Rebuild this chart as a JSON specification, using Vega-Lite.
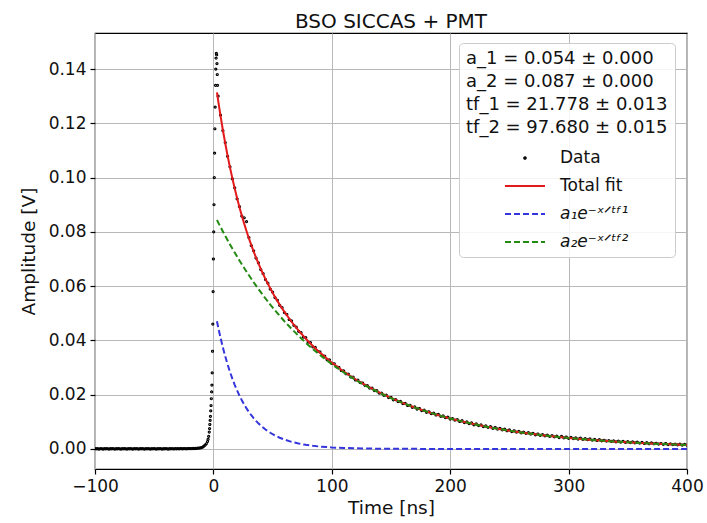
{
  "$schema": "https://vega.github.io/schema/vega-lite/v6.json",
  "autosize": "none",
  "width": 592,
  "height": 436,
  "padding": {"left": 95, "top": 33, "right": 20, "bottom": 54},
  "background": "white",
  "title": {"text": "BSO SICCAS + PMT", "fontSize": 20, "fontWeight": "normal", "font": "DejaVu Sans", "color": "#111", "anchor": "middle", "offset": -15, "baseline": "alphabetic"},
  "datasets": {
    "pts": [
      {"t":-100,"v":0.0001},{"t":-99,"v":0.0},{"t":-98,"v":0.0001},{"t":-97,"v":-0.0001},{"t":-96,"v":0.0},{"t":-95,"v":0.0001},{"t":-94,"v":0.0},{"t":-93,"v":-0.0001},{"t":-92,"v":0.0001},{"t":-91,"v":0.0},
      {"t":-90,"v":0.0001},{"t":-89,"v":0.0},{"t":-88,"v":-0.0001},{"t":-87,"v":0.0001},{"t":-86,"v":0.0},{"t":-85,"v":0.0001},{"t":-84,"v":0.0},{"t":-83,"v":-0.0001},{"t":-82,"v":0.0001},{"t":-81,"v":0.0},
      {"t":-80,"v":0.0001},{"t":-79,"v":0.0},{"t":-78,"v":-0.0001},{"t":-77,"v":0.0001},{"t":-76,"v":0.0},{"t":-75,"v":0.0001},{"t":-74,"v":0.0},{"t":-73,"v":-0.0001},{"t":-72,"v":0.0001},{"t":-71,"v":0.0},
      {"t":-70,"v":0.0001},{"t":-69,"v":0.0},{"t":-68,"v":-0.0001},{"t":-67,"v":0.0001},{"t":-66,"v":0.0},{"t":-65,"v":0.0001},{"t":-64,"v":0.0},{"t":-63,"v":-0.0001},{"t":-62,"v":0.0001},{"t":-61,"v":0.0},
      {"t":-60,"v":0.0001},{"t":-59,"v":0.0},{"t":-58,"v":-0.0001},{"t":-57,"v":0.0001},{"t":-56,"v":0.0},{"t":-55,"v":0.0001},{"t":-54,"v":0.0},{"t":-53,"v":-0.0001},{"t":-52,"v":0.0001},{"t":-51,"v":0.0},
      {"t":-50,"v":0.0001},{"t":-49,"v":0.0},{"t":-48,"v":-0.0001},{"t":-47,"v":0.0001},{"t":-46,"v":0.0},{"t":-45,"v":0.0001},{"t":-44,"v":0.0},{"t":-43,"v":-0.0001},{"t":-42,"v":0.0001},{"t":-41,"v":0.0},
      {"t":-40,"v":0.0001},{"t":-39,"v":0.0},{"t":-38,"v":-0.0001},{"t":-37,"v":0.0001},{"t":-36,"v":0.0},{"t":-35,"v":0.0001},{"t":-34,"v":0.0},{"t":-33,"v":0.0},{"t":-32,"v":0.0001},{"t":-31,"v":0.0},
      {"t":-30,"v":0.0001},{"t":-29,"v":0.0},{"t":-28,"v":0.0001},{"t":-27,"v":0.0001},{"t":-26,"v":0.0},{"t":-25,"v":0.0001},{"t":-24,"v":0.0001},{"t":-23,"v":0.0},{"t":-22,"v":0.0001},{"t":-21,"v":0.0001},
      {"t":-20,"v":0.0001},{"t":-19,"v":0.0001},{"t":-18,"v":0.0001},{"t":-17,"v":0.0002},{"t":-16,"v":0.0001},{"t":-15,"v":0.0002},{"t":-14,"v":0.0002},{"t":-13,"v":0.0003},
      {"t":-12,"v":0.0003},{"t":-11,"v":0.0004},{"t":-10,"v":0.0005},{"t":-9,"v":0.0007},{"t":-8,"v":0.001},{"t":-7,"v":0.0014},{"t":-6,"v":0.0019},{"t":-5,"v":0.0027},{"t":-4.5,"v":0.0035},{"t":-4,"v":0.0046},
      {"t":-3.5,"v":0.0062},{"t":-3.25,"v":0.0075},{"t":-3,"v":0.009},{"t":-2.75,"v":0.0105},{"t":-2.5,"v":0.012},{"t":-2.25,"v":0.014},{"t":-2,"v":0.016},{"t":-1.75,"v":0.0185},{"t":-1.5,"v":0.021},{"t":-1.25,"v":0.0235},
      {"t":-1,"v":0.028},{"t":-0.75,"v":0.036},{"t":-0.5,"v":0.046},{"t":-0.25,"v":0.058},{"t":0,"v":0.07},{"t":0.25,"v":0.08},{"t":0.5,"v":0.09},{"t":0.75,"v":0.1},{"t":1,"v":0.109},{"t":1.25,"v":0.118},
      {"t":1.5,"v":0.126},{"t":1.75,"v":0.134},{"t":2,"v":0.14},{"t":2.25,"v":0.144},{"t":2.5,"v":0.1458},{"t":2.75,"v":0.1452},{"t":3,"v":0.142},{"t":3.25,"v":0.138},{"t":3.5,"v":0.134},
      {"t":4,"v":0.13},{"t":6,"v":0.123},{"t":8,"v":0.1173},{"t":10,"v":0.1129},{"t":12,"v":0.1078},{"t":14,"v":0.104},{"t":16,"v":0.0995},{"t":18,"v":0.0962},{"t":20,"v":0.0922},{"t":22,"v":0.0893},
      {"t":24,"v":0.0858},{"t":26,"v":0.0852},{"t":28,"v":0.0838},{"t":30,"v":0.0779},{"t":32,"v":0.0749},{"t":34,"v":0.073},{"t":36,"v":0.0703},{"t":38,"v":0.0686},{"t":40,"v":0.0661},{"t":42,"v":0.0646},
      {"t":44,"v":0.0624},{"t":46,"v":0.0611},{"t":48,"v":0.0589},{"t":50,"v":0.0578},{"t":52,"v":0.0558},{"t":54,"v":0.0548},{"t":56,"v":0.0529},{"t":58,"v":0.0521},{"t":60,"v":0.0502},{"t":62,"v":0.0496},
      {"t":64,"v":0.0477},{"t":66,"v":0.0472},{"t":68,"v":0.0455},{"t":70,"v":0.0449},{"t":72,"v":0.0433},{"t":74,"v":0.0429},{"t":76,"v":0.0412},{"t":78,"v":0.041},{"t":80,"v":0.0394},{"t":82,"v":0.0392},
      {"t":84,"v":0.0376},{"t":86,"v":0.0374},{"t":88,"v":0.036},{"t":90,"v":0.0358},{"t":92,"v":0.0344},{"t":94,"v":0.0342},{"t":96,"v":0.0329},{"t":98,"v":0.0328},{"t":100,"v":0.0315},{"t":102,"v":0.0314},
      {"t":104,"v":0.0302},{"t":106,"v":0.0301},{"t":108,"v":0.0289},{"t":110,"v":0.0288},{"t":112,"v":0.0277},{"t":114,"v":0.0276},{"t":116,"v":0.0265},{"t":118,"v":0.0265},{"t":120,"v":0.0254},{"t":122,"v":0.0254},
      {"t":124,"v":0.0244},{"t":126,"v":0.0243},{"t":128,"v":0.0234},{"t":130,"v":0.0233},{"t":132,"v":0.0224},{"t":134,"v":0.0224},{"t":136,"v":0.0215},{"t":138,"v":0.0215},{"t":140,"v":0.0206},{"t":142,"v":0.0206},
      {"t":144,"v":0.0197},{"t":146,"v":0.0198},{"t":148,"v":0.0189},{"t":150,"v":0.019},{"t":152,"v":0.0181},{"t":154,"v":0.0182},{"t":156,"v":0.0174},{"t":158,"v":0.0175},{"t":160,"v":0.0167},{"t":162,"v":0.0168},
      {"t":164,"v":0.016},{"t":166,"v":0.0161},{"t":168,"v":0.0153},{"t":170,"v":0.0155},{"t":172,"v":0.0147},{"t":174,"v":0.0149},{"t":176,"v":0.0141},{"t":178,"v":0.0143},{"t":180,"v":0.0135},{"t":182,"v":0.0137},
      {"t":184,"v":0.013},{"t":186,"v":0.0132},{"t":188,"v":0.0125},{"t":190,"v":0.0127},{"t":192,"v":0.012},{"t":194,"v":0.0122},{"t":196,"v":0.0115},{"t":198,"v":0.0117},{"t":200,"v":0.011},{"t":202,"v":0.0112},
      {"t":204,"v":0.0106},{"t":206,"v":0.0108},{"t":208,"v":0.0101},{"t":210,"v":0.0104},{"t":212,"v":0.0097},{"t":214,"v":0.01},{"t":216,"v":0.0093},{"t":218,"v":0.0096},{"t":220,"v":0.0089},{"t":222,"v":0.0092},
      {"t":224,"v":0.0086},{"t":226,"v":0.0089},{"t":228,"v":0.0082},{"t":230,"v":0.0085},{"t":232,"v":0.0079},{"t":234,"v":0.0082},{"t":236,"v":0.0076},{"t":238,"v":0.0079},{"t":240,"v":0.0073},{"t":242,"v":0.0076},
      {"t":244,"v":0.007},{"t":246,"v":0.0073},{"t":248,"v":0.0067},{"t":250,"v":0.007},{"t":252,"v":0.0064},{"t":254,"v":0.0067},{"t":256,"v":0.0062},{"t":258,"v":0.0065},{"t":260,"v":0.0059},{"t":262,"v":0.0062},
      {"t":264,"v":0.0057},{"t":266,"v":0.006},{"t":268,"v":0.0055},{"t":270,"v":0.0057},{"t":272,"v":0.0052},{"t":274,"v":0.0055},{"t":276,"v":0.005},{"t":278,"v":0.0053},{"t":280,"v":0.0048},{"t":282,"v":0.0051},
      {"t":284,"v":0.0046},{"t":286,"v":0.0049},{"t":288,"v":0.0044},{"t":290,"v":0.0047},{"t":292,"v":0.0042},{"t":294,"v":0.0046},{"t":296,"v":0.0041},{"t":298,"v":0.0044},{"t":300,"v":0.0039},{"t":302,"v":0.0043},
      {"t":304,"v":0.0038},{"t":306,"v":0.0041},{"t":308,"v":0.0036},{"t":310,"v":0.004},{"t":312,"v":0.0035},{"t":314,"v":0.0038},{"t":316,"v":0.0034},{"t":318,"v":0.0037},{"t":320,"v":0.0032},{"t":322,"v":0.0035},
      {"t":324,"v":0.0031},{"t":326,"v":0.0034},{"t":328,"v":0.003},{"t":330,"v":0.0032},{"t":332,"v":0.0029},{"t":334,"v":0.0031},{"t":336,"v":0.0028},{"t":338,"v":0.003},{"t":340,"v":0.0026},{"t":342,"v":0.0029},
      {"t":344,"v":0.0025},{"t":346,"v":0.0028},{"t":348,"v":0.0024},{"t":350,"v":0.0027},{"t":352,"v":0.0023},{"t":354,"v":0.0026},{"t":356,"v":0.0022},{"t":358,"v":0.0025},{"t":360,"v":0.0021},{"t":362,"v":0.0024},
      {"t":364,"v":0.002},{"t":366,"v":0.0023},{"t":368,"v":0.0019},{"t":370,"v":0.0022},{"t":372,"v":0.0019},{"t":374,"v":0.0021},{"t":376,"v":0.0018},{"t":378,"v":0.002},{"t":380,"v":0.0017},{"t":382,"v":0.002},
      {"t":384,"v":0.0016},{"t":386,"v":0.0019},{"t":388,"v":0.0016},{"t":390,"v":0.0018},{"t":392,"v":0.0015},{"t":394,"v":0.0018},{"t":396,"v":0.0014},{"t":398,"v":0.0017},{"t":400,"v":0.0014}
    ],
    "fit": [
      {"t":3,"total":0.13142,"e1":0.04705,"e2":0.08437},{"t":4,"total":0.12845,"e1":0.04494,"e2":0.08351},{"t":6,"total":0.12281,"e1":0.041,"e2":0.08182},{"t":8,"total":0.11756,"e1":0.0374,"e2":0.08016},
      {"t":10,"total":0.11265,"e1":0.03412,"e2":0.07853},{"t":12,"total":0.10806,"e1":0.03112,"e2":0.07694},{"t":14,"total":0.10377,"e1":0.02839,"e2":0.07538},{"t":16,"total":0.09976,"e1":0.0259,"e2":0.07385},
      {"t":18,"total":0.09599,"e1":0.02363,"e2":0.07236},{"t":20,"total":0.09245,"e1":0.02156,"e2":0.07089},{"t":22,"total":0.08912,"e1":0.01966,"e2":0.06945},{"t":24,"total":0.08599,"e1":0.01794,"e2":0.06805},
      {"t":26,"total":0.08303,"e1":0.01637,"e2":0.06667},{"t":28,"total":0.08025,"e1":0.01493,"e2":0.06532},{"t":30,"total":0.07761,"e1":0.01362,"e2":0.06399},{"t":32,"total":0.07512,"e1":0.01242,"e2":0.0627},
      {"t":34,"total":0.07276,"e1":0.01133,"e2":0.06142},{"t":36,"total":0.07052,"e1":0.01034,"e2":0.06018},{"t":38,"total":0.06839,"e1":0.00943,"e2":0.05896},{"t":40,"total":0.06637,"e1":0.0086,"e2":0.05776},
      {"t":44,"total":0.06261,"e1":0.00716,"e2":0.05545},{"t":48,"total":0.05918,"e1":0.00596,"e2":0.05322},{"t":52,"total":0.05604,"e1":0.00496,"e2":0.05109},{"t":56,"total":0.05316,"e1":0.00413,"e2":0.04904},
      {"t":60,"total":0.0505,"e1":0.00344,"e2":0.04707},{"t":66,"total":0.04687,"e1":0.00261,"e2":0.04426},{"t":72,"total":0.04361,"e1":0.00198,"e2":0.04163},{"t":78,"total":0.04065,"e1":0.0015,"e2":0.03915},
      {"t":84,"total":0.03795,"e1":0.00114,"e2":0.03681},{"t":90,"total":0.03549,"e1":0.00087,"e2":0.03462},{"t":100,"total":0.0318,"e1":0.00055,"e2":0.03125},{"t":110,"total":0.02855,"e1":0.00035,"e2":0.02821},
      {"t":120,"total":0.02568,"e1":0.00022,"e2":0.02546},{"t":130,"total":0.02312,"e1":0.00014,"e2":0.02299},{"t":140,"total":0.02084,"e1":0.00009,"e2":0.02075},{"t":150,"total":0.01879,"e1":0.00006,"e2":0.01873},
      {"t":160,"total":0.01694,"e1":0.00003,"e2":0.01691},{"t":170,"total":0.01528,"e1":0.00002,"e2":0.01526},{"t":180,"total":0.01379,"e1":0.00001,"e2":0.01378},{"t":190,"total":0.01244,"e1":0.00001,"e2":0.01244},
      {"t":200,"total":0.01123,"e1":0.00001,"e2":0.01123},{"t":210,"total":0.01013,"e1":0.0,"e2":0.01013},{"t":220,"total":0.00915,"e1":0.0,"e2":0.00915},{"t":230,"total":0.00826,"e1":0.0,"e2":0.00826},
      {"t":240,"total":0.00745,"e1":0.0,"e2":0.00745},{"t":250,"total":0.00673,"e1":0.0,"e2":0.00673},{"t":260,"total":0.00607,"e1":0.0,"e2":0.00607},{"t":270,"total":0.00548,"e1":0.0,"e2":0.00548},
      {"t":280,"total":0.00495,"e1":0.0,"e2":0.00495},{"t":290,"total":0.00447,"e1":0.0,"e2":0.00447},{"t":300,"total":0.00403,"e1":0.0,"e2":0.00403},{"t":310,"total":0.00364,"e1":0.0,"e2":0.00364},
      {"t":320,"total":0.00329,"e1":0.0,"e2":0.00329},{"t":330,"total":0.00297,"e1":0.0,"e2":0.00297},{"t":340,"total":0.00268,"e1":0.0,"e2":0.00268},{"t":350,"total":0.00242,"e1":0.0,"e2":0.00242},
      {"t":360,"total":0.00218,"e1":0.0,"e2":0.00218},{"t":370,"total":0.00197,"e1":0.0,"e2":0.00197},{"t":380,"total":0.00178,"e1":0.0,"e2":0.00178},{"t":390,"total":0.00161,"e1":0.0,"e2":0.00161},
      {"t":400,"total":0.00145,"e1":0.0,"e2":0.00145}
    ]
  },
  "layer": [
    {
      "data": {"name": "pts"},
      "mark": {"type": "point", "filled": false, "size": 4, "strokeWidth": 1.2, "opacity": 1, "clip": true},
      "encoding": {
        "x": {"field": "t", "type": "quantitative", "scale": {"domain": [-100, 400], "nice": false, "zero": false},
          "axis": {"title": "Time [ns]", "values": [-100, 0, 100, 200, 300, 400], "titlePadding": 4}},
        "y": {"field": "v", "type": "quantitative", "scale": {"domain": [-0.0074, 0.1533], "nice": false, "zero": false},
          "axis": {"title": "Amplitude [V]", "values": [0, 0.02, 0.04, 0.06, 0.08, 0.1, 0.12, 0.14], "format": ".2f", "titlePadding": 10}},
        "color": {"datum": "Data", "type": "nominal",
          "scale": {"domain": ["Data", "Total fit", "a₁e⁻ˣᐟᵗᶠ¹", "a₂e⁻ˣᐟᵗᶠ²"], "range": ["#000000", "#e31a1c", "#3535dd", "#238a12"]},
          "legend": {
            "orient": "none", "legendX": 364, "legendY": 10,
            "title": ["a_1 = 0.054 ± 0.000", "a_2 = 0.087 ± 0.000", "tf_1 = 21.778 ± 0.013", "tf_2 = 97.680 ± 0.015"],
            "symbolType": {"expr": "datum.value === 'Data' ? 'M0,-0.08A0.08,0.08 0 1,1 0,0.08A0.08,0.08 0 1,1 0,-0.08Z' : 'M-2,0L2,0'"},
            "symbolDash": {"expr": "datum.value === 'Data' || datum.value === 'Total fit' ? [1, 0] : [6, 3]"},
            "symbolStrokeWidth": 2,
            "symbolSize": 400,
            "symbolFillColor": "transparent",
            "labelFontStyle": {"expr": "datum.value === 'Data' || datum.value === 'Total fit' ? 'normal' : 'italic'"}
          }
        }
      }
    },
    {
      "data": {"name": "fit"},
      "mark": {"type": "line", "strokeWidth": 2, "color": "#e31a1c", "clip": true},
      "encoding": {
        "x": {"field": "t", "type": "quantitative"},
        "y": {"field": "total", "type": "quantitative"}
      }
    },
    {
      "data": {"name": "fit"},
      "mark": {"type": "line", "strokeWidth": 2, "strokeDash": [6, 3], "color": "#3535dd", "clip": true},
      "encoding": {
        "x": {"field": "t", "type": "quantitative"},
        "y": {"field": "e1", "type": "quantitative"}
      }
    },
    {
      "data": {"name": "fit"},
      "mark": {"type": "line", "strokeWidth": 2, "strokeDash": [6, 3], "color": "#238a12", "clip": true},
      "encoding": {
        "x": {"field": "t", "type": "quantitative"},
        "y": {"field": "e2", "type": "quantitative"}
      }
    }
  ],
  "config": {
    "font": "DejaVu Sans",
    "view": {"stroke": "#000000", "strokeWidth": 1.2},
    "legend": {
      "titleFont": "DejaVu Sans", "titleFontSize": 18, "titleFontWeight": "normal", "titleColor": "#111", "titleLineHeight": 23, "titleAlign": "left", "titleAnchor": "start", "titlePadding": 10, "titleLimit": 500,
      "labelFont": "DejaVu Sans", "labelFontSize": 17, "labelColor": "#111", "labelLimit": 300,
      "symbolOffset": 48, "labelOffset": 24,
      "rowPadding": 9, "padding": 7,
      "fillColor": "rgba(255,255,255,0.85)", "strokeColor": "#cccccc", "cornerRadius": 4
    },
    "axis": {
      "grid": true, "gridColor": "#b8b8b8", "gridWidth": 1,
      "domain": false,
      "tickColor": "#000000", "tickSize": 5, "tickWidth": 1.2,
      "labelFont": "DejaVu Sans", "labelFontSize": 17, "labelColor": "#111", "labelPadding": 4,
      "titleFont": "DejaVu Sans", "titleFontSize": 18.5, "titleFontWeight": "normal", "titleColor": "#111",
      "labelFlush": false, "labelOverlap": false
    }
  }
}
